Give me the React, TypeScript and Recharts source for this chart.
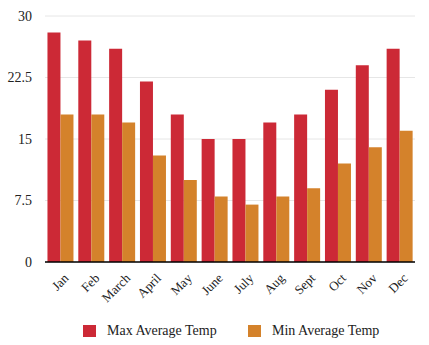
import React from 'react';
import { BarChart, Bar, XAxis, YAxis, CartesianGrid } from 'recharts';

const months = ['Jan', 'Feb', 'March', 'April', 'May', 'June', 'July', 'Aug', 'Sept', 'Oct', 'Nov', 'Dec'];
const maxTemp = [28, 27, 26, 22, 18, 15, 15, 17, 18, 21, 24, 26];
const minTemp = [18, 18, 17, 13, 10, 8, 7, 8, 9, 12, 14, 16];
const yTicks = [0, 7.5, 15, 22.5, 30];
const seriesNames = ['Max Average Temp', 'Min Average Temp'];
const colors = ['#cc2936', '#d4822b'];

const data = months.map((m, i) => ({ month: m, max: maxTemp[i], min: minTemp[i] }));

const FONT = '"Liberation Serif", "Times New Roman", serif';

const XTick = (props: any) => {
  const { x, y, payload } = props;
  return (
    <g transform={`translate(${x + 9},${y + 9})`}>
      <text transform="rotate(-45)" textAnchor="end" fontSize={13} fontFamily={FONT} fill="#222">
        {payload.value}
      </text>
    </g>
  );
};

export default function App() {
  return (
    <div style={{ position: 'absolute', left: 0, top: 0, width: 429, height: 345, background: '#fff' }}>
      <BarChart
        width={429}
        height={345}
        data={data}
        margin={{ top: 16, right: 14, left: 0, bottom: 0 }}
        barCategoryGap="8%"
        barGap={0}
      >
        <CartesianGrid vertical={false} stroke="#e6e6e6" />
        <XAxis
          dataKey="month"
          interval={0}
          tickLine={false}
          axisLine={{ stroke: '#000', strokeWidth: 1.5 }}
          height={83}
          tick={<XTick />}
        />
        <YAxis
          width={45}
          domain={[0, 30]}
          ticks={yTicks}
          axisLine={false}
          tickLine={false}
          tickMargin={7}
          tick={{ fontSize: 14, fontFamily: FONT, fill: '#222' }}
        />
        <Bar dataKey="max" name={seriesNames[0]} fill={colors[0]} isAnimationActive={false} />
        <Bar dataKey="min" name={seriesNames[1]} fill={colors[1]} isAnimationActive={false} />
      </BarChart>
      <div style={{ position: 'absolute', top: 320, left: 0, width: 429, height: 20, fontFamily: FONT, fontSize: 14, color: '#222' }}>
        {seriesNames.map((n, i) => (
          <div key={n} style={{ position: 'absolute', left: i === 0 ? 83 : 248, top: 3, display: 'flex', alignItems: 'center', whiteSpace: 'nowrap' }}>
            <span style={{ display: 'inline-block', width: 13, height: 12, background: colors[i], marginRight: 11 }} />
            <span>{n}</span>
          </div>
        ))}
      </div>
    </div>
  );
}
